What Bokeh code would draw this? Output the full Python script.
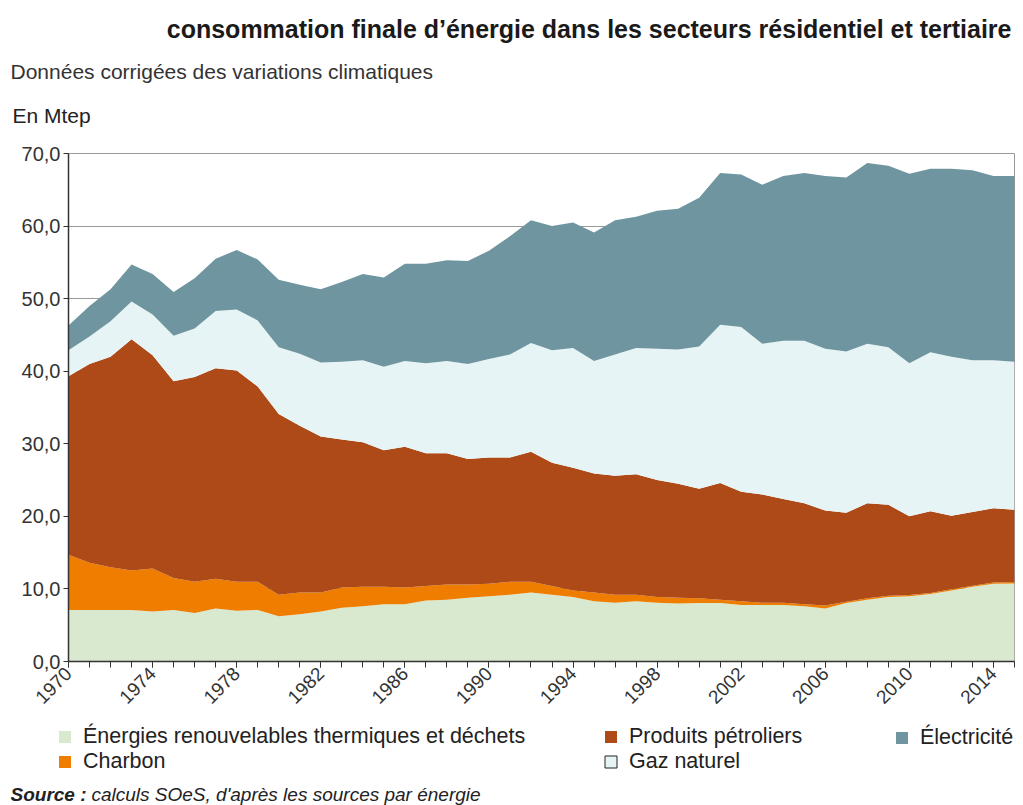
import math
from bokeh.plotting import figure
from bokeh.layouts import column
from bokeh.models import (ColumnDataSource, FixedTicker, CustomJSTickFormatter,
                          Legend, LegendItem, Label, Range1d, Plot)
from bokeh.embed import file_html
from bokeh.resources import INLINE

annees = list(range(1970, 2016))

renouvelables = [7.1, 7.1, 7.1, 7.1, 6.9, 7.1, 6.7, 7.3, 7.0, 7.1,
                 6.25, 6.5, 6.9, 7.4, 7.6, 7.9, 7.9, 8.4, 8.5, 8.8,
                 9.0, 9.2, 9.5, 9.2, 8.9, 8.3, 8.1, 8.3, 8.1, 8.0,
                 8.05, 8.05, 7.8, 7.8, 7.8, 7.6, 7.3, 8.05, 8.5, 8.9,
                 9.0, 9.3, 9.8, 10.3, 10.7, 10.75]
charbon = [7.6, 6.5, 5.9, 5.45, 5.9, 4.4, 4.3, 4.1, 4.0, 3.9,
           2.95, 3.0, 2.6, 2.8, 2.7, 2.4, 2.3, 2.0, 2.1, 1.8,
           1.7, 1.8, 1.5, 1.2, 0.9, 1.2, 1.1, 0.9, 0.8, 0.8,
           0.65, 0.45, 0.5, 0.3, 0.3, 0.3, 0.4, 0.2, 0.2, 0.15,
           0.15, 0.15, 0.15, 0.15, 0.2, 0.2]
petrole = [24.6, 27.4, 29.0, 31.85, 29.4, 27.1, 28.2, 29.0, 29.1, 26.9,
           24.9, 23.0, 21.5, 20.4, 19.9, 18.8, 19.4, 18.3, 18.1, 17.3,
           17.4, 17.1, 17.9, 17.0, 16.9, 16.4, 16.4, 16.6, 16.1, 15.7,
           15.1, 16.1, 15.1, 14.9, 14.3, 13.9, 13.1, 12.25, 13.1, 12.55,
           10.85, 11.25, 10.15, 10.15, 10.2, 9.95]
gaz = [3.6, 3.8, 4.9, 5.2, 5.6, 6.3, 6.7, 7.9, 8.4, 9.1,
       9.2, 9.9, 10.2, 10.7, 11.3, 11.5, 11.8, 12.4, 12.7, 13.1,
       13.6, 14.2, 15.0, 15.5, 16.5, 15.5, 16.7, 17.4, 18.1, 18.5,
       19.6, 21.8, 22.7, 20.8, 21.8, 22.4, 22.3, 22.2, 22.0, 21.7,
       21.1, 21.9, 21.9, 20.9, 20.4, 20.4]
electricite = [3.4, 4.2, 4.4, 5.1, 5.6, 6.0, 6.9, 7.2, 8.2, 8.4,
               9.3, 9.5, 10.1, 11.0, 11.9, 12.3, 13.4, 13.7, 13.9, 14.2,
               14.9, 16.3, 16.9, 17.1, 17.3, 17.7, 18.5, 18.1, 19.0, 19.4,
               20.5, 20.9, 21.0, 21.9, 22.7, 23.1, 23.8, 24.0, 24.9, 25.0,
               26.1, 25.3, 25.9, 26.2, 25.4, 25.6]

series = ["renouvelables", "charbon", "petrole", "gaz", "electricite"]
noms = ["Énergies renouvelables thermiques et déchets", "Charbon",
        "Produits pétroliers", "Gaz naturel", "Électricité"]
couleurs = ["#d9e9cf", "#ee7d00", "#ad4a18", "#e7f4f5", "#6f96a0"]

y_ticks = list(range(0, 71, 10))
x_ticks = list(range(1970, 2015, 4))

titre = "consommation finale d\u2019énergie dans les secteurs résidentiel et tertiaire"
sous_titre = "Données corrigées des variations climatiques"
unite = "En Mtep"
source_a = "Source :"
source_b = "calculs SOeS, d'après les sources par énergie"

FONT = "Liberation Sans"
W = 1020
HAS_FA = "frame_align" in Plot.properties()


def blank(height):
    f = figure(width=W, height=height, x_range=Range1d(0, W),
               y_range=Range1d(0, height), output_backend="svg",
               toolbar_location=None, x_axis_type=None, y_axis_type=None,
               min_border=0)
    if HAS_FA:
        f.frame_align = False
    f.grid.visible = False
    f.outline_line_color = None
    f.background_fill_color = "white"
    f.border_fill_color = "white"
    return f


src = ColumnDataSource(dict(annee=annees, renouvelables=renouvelables,
                            charbon=charbon, petrole=petrole, gaz=gaz,
                            electricite=electricite))

# ---- header ----
H_HEAD = 141
head = blank(H_HEAD)
head.add_layout(Label(x=1011, y=H_HEAD - 28, text=titre, text_align="right",
                      text_baseline="middle", text_font=FONT,
                      text_font_size="25px", text_font_style="bold",
                      text_color="#1a1a1a"))
head.add_layout(Label(x=10, y=H_HEAD - 71, text=sous_titre, text_align="left",
                      text_baseline="middle", text_font=FONT,
                      text_font_size="21px", text_color="#333333"))
head.add_layout(Label(x=12, y=H_HEAD - 115, text=unite, text_align="left",
                      text_baseline="middle", text_font=FONT,
                      text_font_size="21px", text_color="#222222"))

# ---- main chart ----
p = figure(width=W, height=580, x_range=Range1d(1970, 2015),
           y_range=Range1d(0, 70), output_backend="svg",
           toolbar_location=None, min_border_left=68, min_border_right=6,
           min_border_top=12, min_border_bottom=60)
if HAS_FA:
    p.frame_align = False
p.background_fill_color = "white"
p.border_fill_color = "white"
p.outline_line_color = "#999999"
p.outline_line_width = 1

p.varea_stack(stackers=series, x="annee", color=couleurs, source=src)

p.xaxis.ticker = FixedTicker(ticks=x_ticks, minor_ticks=annees)
p.xaxis.major_label_orientation = math.pi / 4
p.yaxis.ticker = FixedTicker(ticks=y_ticks)
p.yaxis.formatter = CustomJSTickFormatter(code="return tick.toFixed(1).replace('.', ',');")
for ax in (p.xaxis, p.yaxis):
    ax.axis_line_color = "#333333"
    ax.axis_line_width = 1.5
    ax.major_tick_line_color = "#333333"
    ax.minor_tick_line_color = "#333333"
    ax.major_tick_in = 0
    ax.minor_tick_in = 0
    ax.major_tick_out = 6
    ax.minor_tick_out = 6
    ax.major_label_text_font = FONT
    ax.major_label_text_color = "#333333"
p.yaxis.minor_tick_line_color = None
p.yaxis.major_tick_out = 5
p.yaxis.major_label_text_font_size = "20px"
p.yaxis.major_label_standoff = 3
p.xaxis.major_label_text_font_size = "19px"
p.xaxis.major_label_standoff = 3

p.xgrid.grid_line_color = None
p.ygrid.grid_line_color = "#999999"
p.ygrid.grid_line_width = 1

# ---- footer: legend + source ----
H_FOOT = 84
foot = blank(H_FOOT)
# legend-only renderers (their x values lie far outside this panel's range)
swatches = []
for i, (s, c) in enumerate(zip(series, couleurs)):
    swatches.append(foot.quad(left="annee", right="annee", top=s, bottom=0,
                              source=src, fill_color=c,
                              line_color="#222222" if i == 3 else None,
                              line_width=1))


def legende(items, x, y):
    lg = Legend(items=items, location=(x, y), orientation="vertical",
                glyph_width=15, glyph_height=15, label_standoff=11,
                spacing=0, padding=0, margin=0, border_line_color=None,
                background_fill_alpha=0, label_text_font=FONT,
                label_text_font_size="21.5px", label_text_color="#222222",
                label_height=20)
    foot.add_layout(lg)


legende([LegendItem(label=noms[0], renderers=[swatches[0]]),
         LegendItem(label=noms[1], renderers=[swatches[1]])], 57, 31)
legende([LegendItem(label=noms[2], renderers=[swatches[2]]),
         LegendItem(label=noms[3], renderers=[swatches[3]])], 603, 31)
legende([LegendItem(label=noms[4], renderers=[swatches[4]])], 894, 55)

foot.add_layout(Label(x=10, y=11, text=source_a, text_align="left",
                      text_baseline="alphabetic", text_font=FONT,
                      text_font_size="19px", text_font_style="bold italic",
                      text_color="#222222"))
foot.add_layout(Label(x=91, y=11, text=source_b, text_align="left",
                      text_baseline="alphabetic", text_font=FONT,
                      text_font_size="19px", text_font_style="italic",
                      text_color="#222222"))

layout = column(head, p, foot, spacing=0)
open("out.html", "w").write(file_html(layout, INLINE))
